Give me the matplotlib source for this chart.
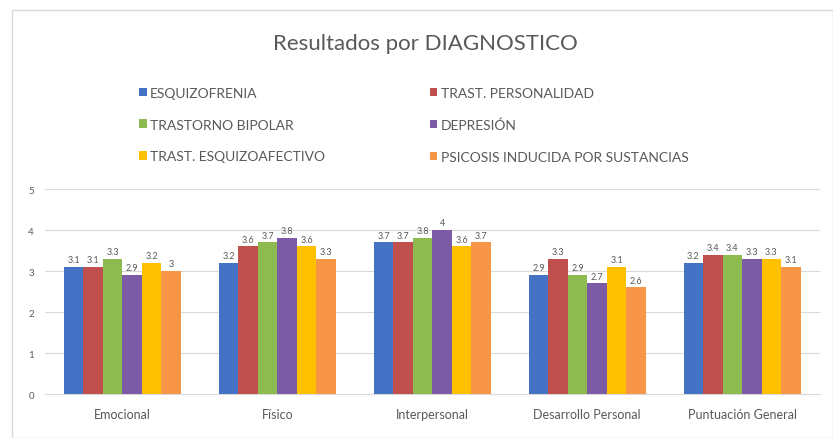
import matplotlib
matplotlib.use("Agg")
import matplotlib.pyplot as plt
import numpy as np
from matplotlib.patches import Rectangle

plt.rcParams['font.family'] = ['Lato', 'DejaVu Sans']

categories = ["Emocional", "Físico", "Interpersonal", "Desarrollo Personal", "Puntuación General"]
series_names = ["ESQUIZOFRENIA", "TRAST. PERSONALIDAD", "TRASTORNO BIPOLAR",
                "DEPRESIÓN", "TRAST. ESQUIZOAFECTIVO", "PSICOSIS INDUCIDA POR SUSTANCIAS"]
esquizofrenia = [3.1, 3.2, 3.7, 2.9, 3.2]
personalidad = [3.1, 3.6, 3.7, 3.3, 3.4]
bipolar = [3.3, 3.7, 3.8, 2.9, 3.4]
depresion = [2.9, 3.8, 4.0, 2.7, 3.3]
esquizoafectivo = [3.2, 3.6, 3.6, 3.1, 3.3]
psicosis = [3.0, 3.3, 3.7, 2.6, 3.1]
values = [esquizofrenia, personalidad, bipolar, depresion, esquizoafectivo, psicosis]
colors = ["#4472C4", "#C0504D", "#8DBB4F", "#7B5BA6", "#FFC000", "#F79646"]
yticks = [0, 1, 2, 3, 4, 5]

fig = plt.figure(figsize=(8.33, 4.39), dpi=100)
ax = fig.add_axes([0.054, 0.100, 0.930, 0.467])

x = np.arange(len(categories))
bw = 0.755 / 6
handles = []
for i, (name, vals, c) in enumerate(zip(series_names, values, colors)):
    pos = x - 0.755 / 2 + bw * (i + 0.5)
    b = ax.bar(pos, vals, width=bw, color=c, label=name, zorder=3)
    handles.append(b)
    for p, v in zip(pos, vals):
        lab = f"{v:g}"
        ax.text(p, v + 0.07, lab, ha='center', va='bottom', fontsize=6.5, color='#595959')

ax.set_xlim(-0.5, len(categories) - 0.5)
ax.set_ylim(0, 5)
ax.set_yticks(yticks)
ax.set_xticks(x)
ax.set_xticklabels(categories, fontsize=9, color='#595959')
ax.tick_params(axis='y', labelsize=7, colors='#595959', length=0, pad=8)
ax.tick_params(axis='x', length=0, pad=10)
ax.grid(axis='y', color='#D9D9D9', linewidth=0.8, zorder=0)
for s in ['top', 'right', 'left']:
    ax.spines[s].set_visible(False)
ax.spines['bottom'].set_color('#D9D9D9')

fig.text(0.511, 0.900, "Resultados por DIAGNOSTICO", ha='center', va='center',
         fontsize=16, color='#595959')

def make_leg(idx, xpos):
    lg = fig.legend([handles[i] for i in idx], [series_names[i] for i in idx],
                    ncol=1, loc='upper left', bbox_to_anchor=(xpos, 0.800),
                    frameon=False, fontsize=10, handlelength=0.55, handleheight=0.55,
                    handletextpad=0.25, labelspacing=1.42, borderpad=0, borderaxespad=0)
    for t in lg.get_texts():
        t.set_color('#595959')
    return lg

make_leg([0, 2, 4], 0.167)
make_leg([1, 3, 5], 0.516)

fig.patches.append(Rectangle((0.014, 0.0), 0.986, 0.975, transform=fig.transFigure,
                             fill=False, edgecolor='#D9D9D9', linewidth=1))

fig.savefig("out.png", dpi=100)
